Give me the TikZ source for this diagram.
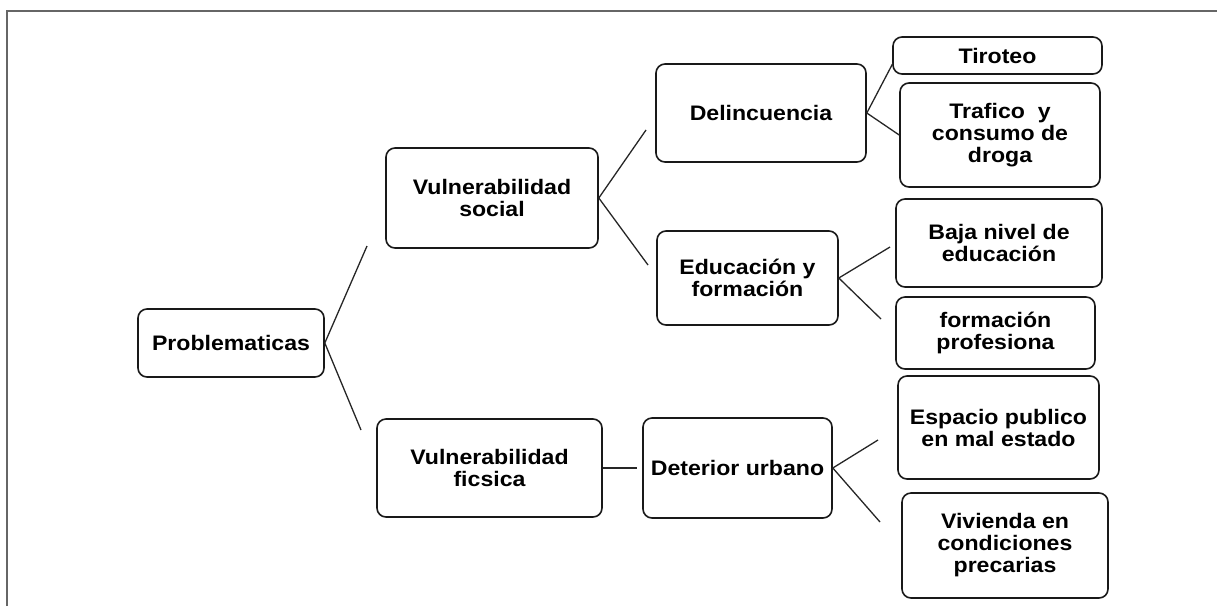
\documentclass[tikz,border=0pt]{standalone}
\usepackage{fontspec}
\setmainfont{Liberation Sans}[FakeStretch=1.1]
\begin{document}
\begin{tikzpicture}[x=1pt,y=-1pt,
  box/.style={draw=black!90, line width=1.6pt, rounded corners=9pt, align=center,
    inner sep=0pt, font=\fontsize{21}{22}\selectfont\bfseries},
  conn/.style={draw=black!85, line width=1.3pt},
  frame/.style={draw=black!60, line width=1.5pt}]
\useasboundingbox (0,0) rectangle (1217,606);
\draw[frame] (7,606) -- (7,11) -- (1217,11);

\node[box, minimum width=186pt, minimum height=68pt] (P) at (231,343) {Problematicas};
\node[box, minimum width=212pt, minimum height=100pt] (VS) at (492,198) {Vulnerabilidad\\social};
\node[box, minimum width=225pt, minimum height=98pt] (VF) at (489.5,468) {Vulnerabilidad\\ficsica};
\node[box, minimum width=210pt, minimum height=98pt] (D) at (761,113) {Delincuencia};
\node[box, minimum width=181pt, minimum height=94pt] (E) at (747.5,278) {Educación y\\formación};
\node[box, minimum width=189pt, minimum height=100pt] (DU) at (737.5,468) {Deterior urbano};
\node[box, minimum width=209pt, minimum height=37pt] (T) at (997.5,55.5) {Tiroteo};
\node[box, minimum width=200pt, minimum height=104pt] (TR) at (1000,135) {Trafico~ y\\consumo de\\droga};
\node[box, minimum width=206pt, minimum height=88pt] (B) at (999,243) {Baja nivel de\\educación};
\node[box, minimum width=199pt, minimum height=72pt] (F) at (995.5,333) {formación\\profesiona};
\node[box, minimum width=201pt, minimum height=103pt] (ES) at (998.5,427.5) {Espacio publico\\en mal estado};
\node[box, minimum width=206pt, minimum height=105pt] (V) at (1005,545.5) {Vivienda en\\condiciones\\precarias};

\coordinate (pa) at (367,246);
\coordinate (pb) at (361,430);
\coordinate (va) at (646,130);
\coordinate (vb) at (648,265);
\coordinate (ta) at (893,63);
\coordinate (ea) at (890,247);
\coordinate (eb) at (881,319);
\coordinate (da) at (878,440);
\coordinate (db) at (880,522);
\coordinate (fa) at (637,468);

\draw[conn] (P.east) -- (pa);
\draw[conn] (P.east) -- (pb);
\draw[conn] (VS.east) -- (va);
\draw[conn] (VS.east) -- (vb);
\draw[conn] (D.east) -- (ta);
\draw[conn] (D.east) -- (TR.west);
\draw[conn] (E.east) -- (ea);
\draw[conn] (E.east) -- (eb);
\draw[conn] (VF.east) -- (fa);
\draw[conn] (DU.east) -- (da);
\draw[conn] (DU.east) -- (db);
\end{tikzpicture}
\end{document}
